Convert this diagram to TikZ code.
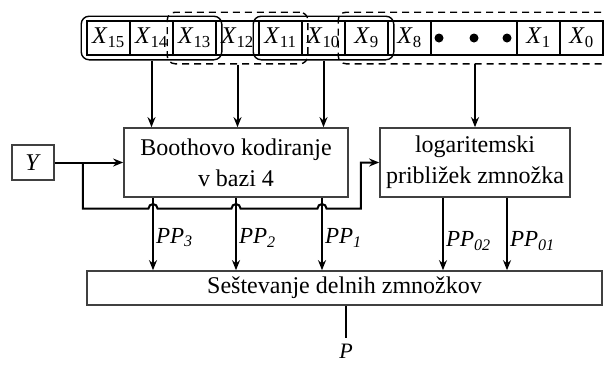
\documentclass[tikz,border=0pt]{standalone}
\usepackage{fontspec}
\setmainfont{Liberation Serif}
\usetikzlibrary{arrows.meta,calc,fit}

\begin{document}
\begin{tikzpicture}[x=1pt,y=-1pt,
  font=\fontsize{24}{31}\selectfont,
  cell/.style={draw, line width=1.6pt, minimum width=43pt, minimum height=34pt, inner sep=0pt},
  blk/.style={draw=black!75, line width=1.7pt, inner sep=0pt, align=center},
  grp/.style={draw, line width=1.4pt, rounded corners=8pt},
  dsh/.style={dash pattern=on 7pt off 5pt},
  dotmark/.style={circle, fill, inner sep=0pt, minimum size=9pt},
  arr/.style={line width=2pt, -{Stealth[length=10pt,width=8pt]}},
  wire/.style={line width=2pt},
  lab/.style={font=\fontsize{23}{28}\selectfont\itshape, inner sep=2pt, anchor=west}]

\useasboundingbox (0,0) rectangle (605,365);

% multiplicand register
\node[cell] (c15) at (108.5,38) {\textit{X}\textsubscript{15}};
\node[cell] (c14) at (151.5,38) {\textit{X}\textsubscript{14}};
\node[cell] (c13) at (194.5,38) {\textit{X}\textsubscript{13}};
\node[cell] (c12) at (237.5,38) {\textit{X}\textsubscript{12}};
\node[cell] (c11) at (280.5,38) {\textit{X}\textsubscript{11}};
\node[cell] (c10) at (323.5,38) {\textit{X}\textsubscript{10}};
\node[cell] (c9)  at (366.5,38) {\textit{X}\textsubscript{9}};
\node[cell] (c8)  at (409.5,38) {\textit{X}\textsubscript{8}};
\node[cell, minimum width=86pt] (cd) at (474,38) {};
\node[cell] (c1)  at (538.5,38) {\textit{X}\textsubscript{1}};
\node[cell] (c0)  at (581.5,38) {\textit{X}\textsubscript{0}};
\node[dotmark] (d1) at (439,38) {};
\node[dotmark] (d2) at (474,38) {};
\node[dotmark] (d3) at (507,38) {};

% bit groups for the encoders
\node[grp, fit=(c15)(c13), inner xsep=5pt, inner ysep=4pt] (g1) {};
\node[grp, dsh, fit=(c13)(c11), inner xsep=5pt, inner ysep=8pt] (g2) {};
\node[grp, fit=(c11)(c9), inner xsep=5pt, inner ysep=4pt] (g3) {};
\coordinate (g4nw) at ($(c9.north west)+(-6,-8)$);
\coordinate (g4sw) at ($(c9.south west)+(-6,8)$);
\draw[grp, dsh] ($(g4nw)+(275,0)$) -- (g4nw) -- (g4sw) -- ($(g4sw)+(275,0)$);

% processing blocks
\node[blk, minimum width=224pt, minimum height=69pt] (booth) at (236,162.5) {Boothovo kodiranje\\v bazi 4};
\node[blk, minimum width=190pt, minimum height=69pt] (log) at (475,162.5) {logaritemski\\približek zmnožka};
\node[blk, minimum width=42pt, minimum height=35pt] (y) at (33,162.5) {\textit{Y}};
\node[blk, minimum width=515pt, minimum height=34pt] (add) at (344.5,288) {Seštevanje delnih zmnožkov};

% inputs from the register
\draw[arr] (g1.south) -- (g1.south |- booth.north);
\draw[arr] (g2.south) -- (g2.south |- booth.north);
\draw[arr] (g3.south) -- (g3.south |- booth.north);
\draw[arr] (log.north |- g4sw) -- (log.north);

% multiplier Y to both blocks
\coordinate (k3) at (153,0);
\coordinate (k2) at (236,0);
\coordinate (k1) at (322,0);
\coordinate (k02) at (443,0);
\coordinate (k01) at (507,0);
\coordinate (br) at ($(y.east)+(28,0)$);
\coordinate (bus) at ($(br)+(0,46)$);
\coordinate (turn) at ($(bus)+(278,0)$);
\draw[arr] (y.east) -- (booth.west);
\draw[arr] (br) -- (bus)
  -- ($(bus -| k3)+(-4.5,0)$) arc[start angle=180, end angle=0, radius=4.5pt]
  -- ($(bus -| k2)+(-4.5,0)$) arc[start angle=180, end angle=0, radius=4.5pt]
  -- ($(bus -| k1)+(-4.5,0)$) arc[start angle=180, end angle=0, radius=4.5pt]
  -- (turn) -- (turn |- log.west) -- (log.west);

% partial products
\draw[arr] (booth.south -| k3) -- (add.north -| k3) node[lab, pos=0.55] (l3) {PP\textsubscript{3}};
\draw[arr] (booth.south -| k2) -- (add.north -| k2) node[lab, pos=0.55] (l2) {PP\textsubscript{2}};
\draw[arr] (booth.south -| k1) -- (add.north -| k1) node[lab, pos=0.55] (l1) {PP\textsubscript{1}};
\draw[arr] (log.south -| k02) -- (add.north -| k02) node[lab, pos=0.6] (l02) {PP\textsubscript{02}};
\draw[arr] (log.south -| k01) -- (add.north -| k01) node[lab, pos=0.6] (l01) {PP\textsubscript{01}};

% product output
\coordinate (ko) at (346,0);
\draw[wire] (add.south -| ko) -- ++(0,32) coordinate (pend);
\node[font=\fontsize{22}{26}\selectfont\itshape, anchor=north, inner sep=2pt] (p) at ($(pend)+(0,4)$) {P};
\end{tikzpicture}
\end{document}
